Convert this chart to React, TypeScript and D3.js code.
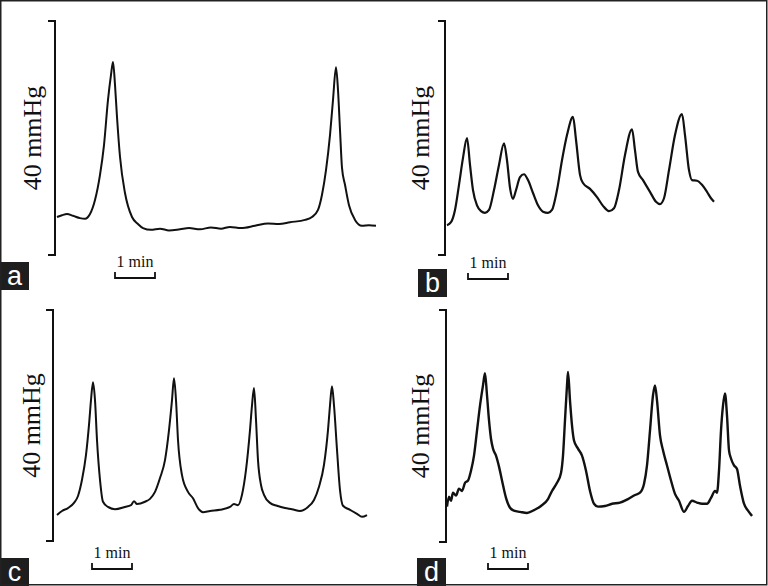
import React from "react";
import * as d3 from "d3";

// Time in minutes, pressure in mmHg (scale bar = 40 mmHg, 1 min)
const aTime = [0, 0.125, 0.25, 0.4, 0.575, 0.7, 0.825, 0.95, 1.075, 1.175, 1.275, 1.35, 1.4, 1.45, 1.5, 1.575, 1.7, 1.875, 2.025, 2.15, 2.35, 2.575, 2.8, 3.075, 3.3, 3.575, 3.85, 4.1, 4.325, 4.6, 4.95, 5.275, 5.55, 5.825, 6.2, 6.375, 6.525, 6.625, 6.725, 6.825, 6.9, 6.975, 7.025, 7.075, 7.125, 7.2, 7.3, 7.45, 7.625, 7.8, 7.975];
const aPressure = [6.5, 6.8, 7.0, 6.7, 6.3, 6.2, 7.0, 9.4, 13.7, 18.8, 26.5, 30.8, 33.0, 29.1, 23.6, 16.8, 10.6, 6.5, 5.3, 4.6, 4.3, 4.5, 4.2, 4.4, 4.6, 4.4, 4.7, 4.5, 4.8, 4.6, 5.0, 5.4, 5.3, 5.6, 6.0, 6.5, 7.7, 10.3, 14.5, 20.5, 26.5, 32.1, 28.2, 21.4, 14.9, 12.0, 8.5, 6.0, 5.0, 5.1, 5.0];

const bTime = [0, 0.1, 0.2, 0.3, 0.4, 0.5, 0.575, 0.65, 0.75, 0.85, 0.95, 1.05, 1.175, 1.3, 1.425, 1.5, 1.575, 1.65, 1.725, 1.825, 1.925, 2.025, 2.15, 2.275, 2.4, 2.525, 2.625, 2.75, 2.875, 3.0, 3.15, 3.225, 3.325, 3.4, 3.575, 3.75, 3.9, 4.05, 4.175, 4.3, 4.45, 4.625, 4.7, 4.775, 4.9, 5.075, 5.225, 5.325, 5.425, 5.55, 5.7, 5.875, 5.95, 6.05, 6.125, 6.25, 6.375, 6.5, 6.6, 6.675];
const bPressure = [5.1, 5.6, 7.7, 12.0, 16.6, 20.0, 15.4, 11.1, 8.5, 7.5, 7.2, 7.7, 11.1, 15.4, 19.1, 16.2, 11.5, 9.6, 11.1, 13.3, 13.8, 12.8, 10.6, 8.5, 7.4, 7.2, 7.7, 11.1, 16.2, 20.5, 23.6, 19.7, 13.7, 12.3, 11.3, 9.9, 8.4, 7.5, 8.0, 11.1, 17.1, 21.5, 17.9, 14.2, 12.8, 10.8, 9.1, 8.7, 9.7, 14.5, 20.5, 24.1, 20.5, 14.5, 12.8, 12.7, 12.0, 10.8, 9.7, 9.1];

const cTime = [0, 0.125, 0.275, 0.425, 0.525, 0.625, 0.725, 0.8, 0.85, 0.9, 0.95, 1.0, 1.075, 1.15, 1.275, 1.45, 1.7, 1.85, 1.925, 2.0, 2.2, 2.325, 2.45, 2.575, 2.7, 2.8, 2.875, 2.925, 2.975, 3.025, 3.125, 3.275, 3.4, 3.525, 3.65, 3.825, 4.075, 4.325, 4.425, 4.525, 4.625, 4.725, 4.825, 4.875, 4.925, 4.975, 5.025, 5.1, 5.175, 5.325, 5.5, 5.7, 5.875, 6.075, 6.275, 6.425, 6.55, 6.675, 6.775, 6.825, 6.875, 6.925, 7.0, 7.075, 7.15, 7.325, 7.5, 7.625, 7.75];
const cPressure = [4.5, 5.2, 5.7, 6.6, 7.8, 10.6, 14.9, 20.1, 24.4, 27.5, 24.4, 17.5, 10.6, 6.8, 5.9, 5.5, 5.9, 6.2, 6.9, 6.4, 6.8, 7.3, 8.5, 10.9, 14.0, 19.2, 24.4, 28.2, 24.4, 17.5, 11.4, 8.5, 7.4, 5.7, 5.0, 5.2, 5.4, 5.9, 6.4, 6.2, 8.0, 12.3, 19.2, 23.5, 26.5, 21.0, 14.0, 9.7, 8.0, 6.6, 6.1, 5.7, 5.5, 5.2, 5.9, 7.1, 9.4, 13.2, 19.2, 23.5, 26.8, 23.5, 15.8, 8.8, 6.1, 5.4, 4.7, 4.2, 4.5];

const dTime = [0, 0.05, 0.1, 0.15, 0.225, 0.3, 0.375, 0.45, 0.525, 0.6, 0.675, 0.75, 0.825, 0.9, 0.95, 1.0, 1.05, 1.1, 1.15, 1.225, 1.3, 1.375, 1.475, 1.575, 1.675, 1.825, 2.0, 2.175, 2.35, 2.525, 2.625, 2.75, 2.85, 2.9, 2.95, 3.0, 3.025, 3.075, 3.125, 3.175, 3.275, 3.375, 3.475, 3.575, 3.675, 3.775, 3.95, 4.125, 4.325, 4.525, 4.7, 4.825, 4.925, 5.0, 5.075, 5.15, 5.2, 5.25, 5.325, 5.4, 5.5, 5.6, 5.7, 5.8, 5.925, 6.025, 6.125, 6.25, 6.375, 6.5, 6.6, 6.7, 6.75, 6.8, 6.85, 6.9, 6.95, 7.0, 7.05, 7.1, 7.175, 7.25, 7.325, 7.425, 7.525, 7.625];
const dPressure = [6.1, 7.8, 7.1, 8.5, 8.0, 9.2, 8.8, 10.2, 10.6, 12.3, 14.9, 19.2, 23.5, 27.0, 29.1, 25.3, 21.0, 17.8, 16.1, 14.9, 13.0, 10.6, 7.6, 5.9, 5.4, 5.2, 5.0, 5.5, 6.2, 7.4, 8.8, 10.2, 11.9, 14.9, 21.0, 27.0, 29.3, 24.4, 20.1, 17.5, 16.1, 14.9, 12.3, 8.8, 6.6, 6.1, 6.2, 6.6, 6.8, 7.4, 8.1, 8.5, 10.0, 13.2, 19.2, 25.3, 27.0, 24.4, 18.4, 15.8, 13.2, 10.6, 8.3, 7.1, 5.2, 6.2, 7.1, 6.8, 6.6, 6.6, 7.6, 8.8, 8.5, 12.3, 19.2, 23.5, 25.6, 21.8, 15.8, 14.4, 13.2, 12.6, 9.7, 6.6, 5.4, 4.5];

const panelLetters = ["a", "b", "c", "d"];
const pressureLabel = "40 mmHg";
const timeLabel = "1 min";
const scaleMmHg = 40;

const series = [
  { time: aTime, pressure: aPressure },
  { time: bTime, pressure: bPressure },
  { time: cTime, pressure: cPressure },
  { time: dTime, pressure: dPressure },
];

const layouts = [
  { barX: 55, top: 21, bottom: 255, x0: 57, labelX: 33, minX: 115, minY: 278, boxX: 0, boxY: 262, sw: 2.0 },
  { barX: 445, top: 21, bottom: 255, x0: 447, labelX: 421, minX: 468, minY: 279, boxX: 418, boxY: 269, sw: 2.2 },
  { barX: 53, top: 310, bottom: 541, x0: 57, labelX: 32, minX: 92, minY: 569, boxX: 0, boxY: 558, sw: 2.0 },
  { barX: 446, top: 310, bottom: 542, x0: 447, labelX: 421, minX: 488, minY: 569, boxX: 417, boxY: 558, sw: 2.4 },
];

const PX_PER_MIN = 40;

function Panel({ idx }: { idx: number }) {
  const L = layouts[idx];
  const s = series[idx];
  const x = d3.scaleLinear().domain([0, 1]).range([L.x0, L.x0 + PX_PER_MIN]);
  const y = d3.scaleLinear().domain([0, scaleMmHg]).range([L.bottom, L.top]);
  const pts: [number, number][] = s.time.map((t, i) => [t, s.pressure[i]]);
  const line = d3
    .line<[number, number]>()
    .x((d) => x(d[0]))
    .y((d) => y(d[1]))
    .curve(d3.curveMonotoneX);
  const mx = d3.scaleLinear().domain([0, 1]).range([L.minX, L.minX + PX_PER_MIN]);
  const cy = (L.top + L.bottom) / 2;
  return (
    <g>
      <path
        d={`M${L.barX - 7},${y(scaleMmHg)}H${L.barX}V${y(0)}H${L.barX - 7}`}
        fill="none"
        stroke="#111"
        strokeWidth={2}
      />
      <text
        transform={`translate(${L.labelX},${cy}) rotate(-90)`}
        textAnchor="middle"
        dy="0.3em"
        fontFamily="'Liberation Serif', 'Times New Roman', serif"
        fontSize={26}
        fill="#111"
      >
        {pressureLabel}
      </text>
      <path d={line(pts) || ""} fill="none" stroke="#111" strokeWidth={L.sw} strokeLinejoin="round" />
      <path
        d={`M${mx(0)},${L.minY - 6}V${L.minY}H${mx(1)}V${L.minY - 6}`}
        fill="none"
        stroke="#111"
        strokeWidth={1.8}
      />
      <text
        x={(mx(0) + mx(1)) / 2}
        y={L.minY - 11}
        textAnchor="middle"
        fontFamily="'Liberation Serif', 'Times New Roman', serif"
        fontSize={16}
        fill="#111"
      >
        {timeLabel}
      </text>
      <rect x={L.boxX} y={L.boxY} width={29} height={28} fill="#1e1e1e" />
      <text
        x={L.boxX + 14.5}
        y={L.boxY + 23}
        textAnchor="middle"
        fontFamily="'Liberation Sans', Arial, sans-serif"
        fontSize={27}
        fill="#fff"
      >
        {panelLetters[idx]}
      </text>
    </g>
  );
}

export default function App() {
  return (
    <svg
      width={768}
      height={586}
      style={{ position: "absolute", left: 0, top: 0, background: "#fff" }}
    >
      <rect x={0} y={0} width={768} height={586} fill="#fff" />
      {[0, 1, 2, 3].map((i) => (
        <Panel key={i} idx={i} />
      ))}
      <rect x={0.75} y={0.75} width={766} height={584} fill="none" stroke="#222" strokeWidth={1.5} />
    </svg>
  );
}
